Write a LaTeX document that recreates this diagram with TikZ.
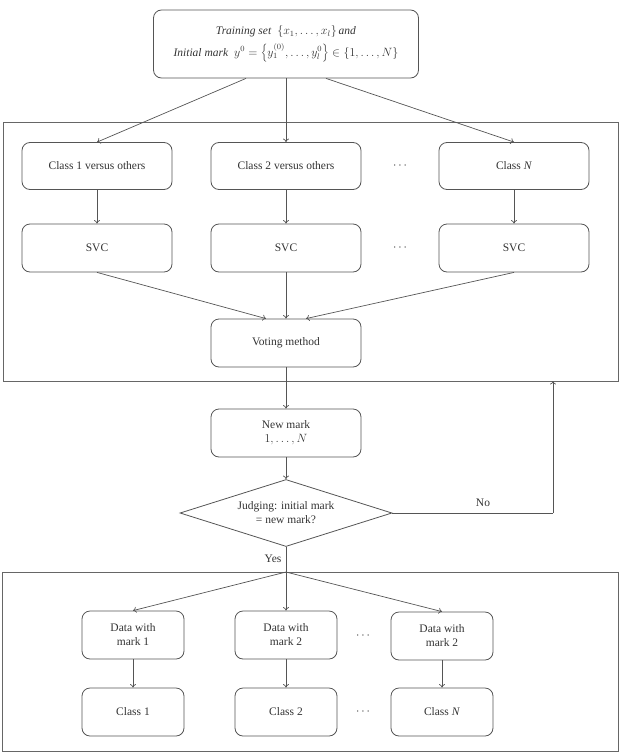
\documentclass[tikz,border=0pt]{standalone}
\usepackage{fontspec}
\setmainfont{Liberation Serif}
\usetikzlibrary{shapes.geometric,arrows.meta}
\definecolor{lin}{HTML}{555555}
\definecolor{txt}{HTML}{333333}
\begin{document}
\begin{tikzpicture}[x=1pt,y=-1pt,
  every node/.style={font=\fontsize{11.5}{14}\selectfont, text=txt},
  rbox/.style={draw=lin, line width=0.8pt, rounded corners=8pt, align=center, inner sep=0pt},
  wbox/.style={rbox, minimum width=150pt, minimum height=47pt},
  dbox/.style={rbox, minimum width=102pt, minimum height=48pt},
  arr/.style={draw=lin, line width=0.7pt, -{To[length=3.5pt,width=6pt]}},
  plain/.style={draw=lin, line width=0.7pt},
  frame/.style={draw=lin!90, line width=1pt}]
\useasboundingbox (0,0) rectangle (619,755);
% frames
\draw[frame] (3,122) rectangle (618,381);
\draw[frame] (2,572) rectangle (618,751);
% top
\node[rbox, minimum width=265pt, minimum height=68pt] (top) at (286,44) {%
  \textit{Training set}\ \ $\{x_1,\dots,x_l\}$\,\textit{and}\\[5pt]
  \textit{Initial mark}\ \ $y^0=\left\{y_1^{(0)},\dots,y_l^0\right\}\in\{1,\dots,N\}$};
% row 1
\node[wbox] (c1) at (97,166) {Class 1 versus others};
\node[wbox] (c2) at (286,166) {Class 2 versus others};
\node[wbox] (cN) at (514,166) {Class \textit{N}};
\node (d1) at (400,166) {$\cdots$};
% row 2
\node[wbox, minimum height=48pt] (s1) at (97,248) {SVC};
\node[wbox, minimum height=48pt] (s2) at (286,248) {SVC};
\node[wbox, minimum height=48pt] (sN) at (514,248) {SVC};
\node (d2) at (400,248) {$\cdots$};
% voting
\node[wbox, minimum height=48pt] (vote) at (286,343) {Voting method};
\node[wbox, minimum height=48pt] (new) at (286,433) {New mark\\$1,\dots,N$};
\node[draw=lin, line width=0.8pt, diamond, aspect=3.16, minimum width=212pt, minimum height=67pt, inner sep=0pt, align=center] (judge) at (286,513) {Judging: initial mark\\= new mark?};
\node (no) at (483,503) {No};
\node (yes) at (273,559) {Yes};
% bottom
\node[dbox] (m1) at (133,635) {Data with\\mark 1};
\node[dbox] (m2) at (286,635) {Data with\\mark 2};
\node[dbox] (m3) at (442,636) {Data with\\mark 2};
\node (d3) at (363,636) {$\cdots$};
\node[dbox] (k1) at (133,712) {Class 1};
\node[dbox] (k2) at (286,712) {Class 2};
\node[dbox] (k3) at (442,712) {Class \textit{N}};
\node (d4) at (363,712) {$\cdots$};
% coordinates
\coordinate (t1) at ([xshift=-40pt]top.south);
\coordinate (t3) at ([xshift=40pt]top.south);
\coordinate (v1) at ([xshift=-20pt]vote.north);
\coordinate (v3) at ([xshift=20pt]vote.north);
\coordinate (turn) at (553,513);
\coordinate (back) at (553,381);
\coordinate (fan) at (286,572);
% connectors
\draw[arr] (t1) -- (c1.north);
\draw[arr] (top.south) -- (c2.north);
\draw[arr] (t3) -- (cN.north);
\draw[arr] (c1) -- (s1);
\draw[arr] (c2) -- (s2);
\draw[arr] (cN) -- (sN);
\draw[arr] (s1.south) -- (v1);
\draw[arr] (s2.south) -- (vote.north);
\draw[arr] (sN.south) -- (v3);
\draw[arr] (vote.south) -- (new.north);
\draw[arr] (new.south) -- (judge.north);
\draw[plain] (judge.east) -- (turn);
\draw[arr] (turn) -- (back);
\draw[plain] (judge.south) -- (fan);
\draw[arr] (fan) -- (m1.north);
\draw[arr] (fan) -- (m2.north);
\draw[arr] (fan) -- (m3.north);
\draw[arr] (m1) -- (k1);
\draw[arr] (m2) -- (k2);
\draw[arr] (m3) -- (k3);
\end{tikzpicture}
\end{document}
